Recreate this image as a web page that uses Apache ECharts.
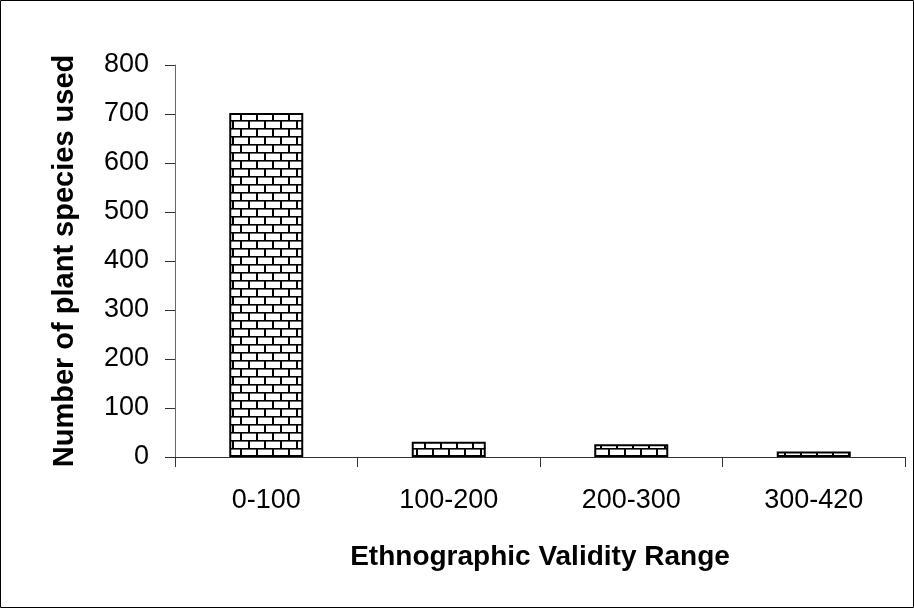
<!DOCTYPE html>
<html>
<head>
<meta charset="utf-8">
<script src="https://cdn.jsdelivr.net/npm/echarts@6/dist/echarts.min.js"></script>
<style>html,body{margin:0;padding:0;background:#fff}#c{width:914px;height:608px}</style>
</head>
<body>
<div id="c"></div>
<script>
var categories = ['0-100', '100-200', '200-300', '300-420'];
var speciesCounts = [702, 31, 26, 11];
var yTicks = [0, 100, 200, 300, 400, 500, 600, 700, 800];
var xTitle = 'Ethnographic Validity Range';
var yTitle = 'Number of plant species used';

function brickPattern() {
  var c = document.createElement('canvas');
  c.width = 16; c.height = 16;
  var g = c.getContext('2d');
  g.fillStyle = '#fff'; g.fillRect(0, 0, 16, 16);
  g.fillStyle = '#000';
  g.fillRect(0, 0, 16, 1);
  g.fillRect(0, 8, 16, 1);
  g.fillStyle = '#666';
  g.fillRect(0, 1, 16, 1);
  g.fillRect(0, 9, 16, 1);
  g.fillStyle = '#000';
  g.fillRect(0, 0, 2, 8);
  g.fillRect(8, 8, 2, 8);
  return c;
}

var chart = echarts.init(document.getElementById('c'), null, {renderer: 'canvas'});
var font = '"Liberation Sans", Arial, sans-serif';
chart.setOption({
  animation: false,
  backgroundColor: '#fff',
  graphic: [{
    type: 'rect', shape: {x: 0.5, y: 0.5, width: 913, height: 607},
    style: {fill: 'none', stroke: '#000', lineWidth: 1}, silent: true
  }],
  grid: {left: 175, right: 9, top: 65, bottom: 151, containLabel: false},
  xAxis: {
    type: 'category',
    data: categories,
    name: xTitle,
    nameLocation: 'middle',
    nameGap: 86,
    nameTextStyle: {fontFamily: font, fontSize: 28, fontWeight: 'bold', color: '#000'},
    axisLine: {lineStyle: {color: '#333', width: 1}},
    axisTick: {show: true, length: 10, inside: false, alignWithLabel: false, lineStyle: {color: '#333'}},
    axisLabel: {fontFamily: font, fontSize: 27, color: '#000', margin: 30}
  },
  yAxis: {
    type: 'value',
    min: 0, max: 800, interval: 100,
    name: yTitle,
    nameLocation: 'middle',
    nameGap: 96,
    nameTextStyle: {fontFamily: font, fontSize: 29, fontWeight: 'bold', color: '#000'},
    splitLine: {show: false},
    axisLine: {show: true, lineStyle: {color: '#666', width: 1}},
    axisTick: {show: true, length: 10, lineStyle: {color: '#333'}},
    axisLabel: {fontFamily: font, fontSize: 27, color: '#000', margin: 26,
      formatter: function (v) { return yTicks.indexOf(v) >= 0 ? String(v) : ''; }}
  },
  series: [{
    type: 'bar',
    data: speciesCounts,
    barWidth: 74,
    itemStyle: {
      color: {image: brickPattern(), repeat: 'repeat'},
      borderColor: '#000',
      borderWidth: 2
    }
  }]
});
</script>
</body>
</html>
